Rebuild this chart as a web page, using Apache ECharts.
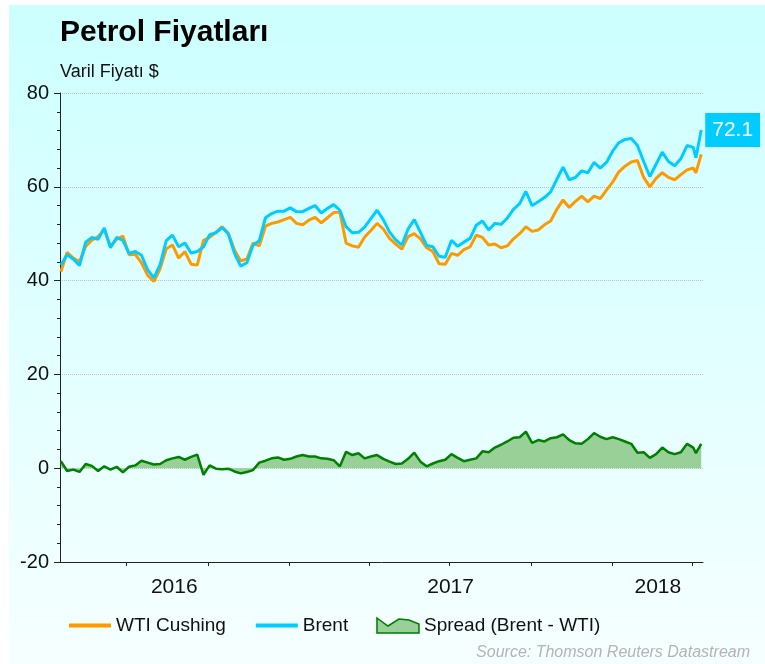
<!DOCTYPE html>
<html>
<head>
<meta charset="utf-8">
<title>Petrol Fiyatları</title>
<script src="https://cdn.jsdelivr.net/npm/echarts@6/dist/echarts.min.js"></script>
<style>
    html, body { margin: 0; padding: 0; background: #fff; }
    #chart { position: absolute; left: 9px; top: 5px; width: 756px; height: 659px; }
</style>
</head>
<body>
<div id="chart"></div>
<script>
// haftalık seri başlangıcı + son iki gün
const weekStart = '2016-04-18';
const weekCount = 103;
const extraDates = ['2018-04-05', '2018-04-11'];

const brent = [
    43.3, 45.5, 44.6, 43.2, 48.2, 49.2, 48.8, 51.2, 47.0, 49.2,
    48.6, 45.8, 46.2, 45.4, 42.3, 40.6, 43.4, 48.5, 49.7, 47.2,
    48.0, 45.9, 46.2, 47.2, 49.8, 50.2, 51.3, 50.0, 45.8, 43.1,
    43.8, 47.6, 48.5, 53.4, 54.3, 54.8, 54.8, 55.5, 54.7, 54.7,
    55.4, 56.0, 54.4, 55.4, 56.2, 55.0, 51.5, 50.2, 50.3, 51.4,
    53.2, 55.0, 53.0, 50.4, 48.7, 47.6, 51.0, 53.0, 50.3, 47.5,
    47.2, 45.2, 45.0, 48.6, 47.3, 48.2, 49.0, 51.8, 52.7, 50.8,
    52.2, 52.0, 53.3, 55.2, 56.4, 59.0, 56.0, 56.8, 57.7, 58.9,
    61.6, 64.2, 61.5, 62.0, 63.4, 63.0, 65.2, 64.0, 65.2, 67.6,
    69.4, 70.1, 70.3, 68.8, 65.4, 62.2, 64.8, 67.4, 65.4, 64.5,
    66.0, 68.8, 68.4, 66.2, 72.1
];

const wti = [
    41.9, 46.0, 44.8, 44.0, 47.3, 48.6, 49.4, 50.8, 47.3, 48.8,
    49.5, 45.5, 45.6, 43.8, 41.1, 39.8, 42.5, 46.8, 47.6, 44.8,
    46.2, 43.5, 43.3, 48.6, 49.2, 50.3, 51.5, 50.1, 46.5, 44.2,
    44.6, 48.0, 47.4, 51.6, 52.2, 52.5, 53.0, 53.5, 52.2, 51.9,
    52.9, 53.5, 52.3, 53.4, 54.5, 54.6, 48.0, 47.4, 47.1, 49.3,
    50.7, 52.2, 51.0, 49.0, 47.8, 46.7, 49.4, 50.0, 48.9, 47.0,
    46.2, 43.6, 43.5, 45.8, 45.4, 46.6, 47.2, 49.7, 49.2, 47.6,
    47.8, 47.0, 47.4, 48.9, 50.0, 51.5, 50.5, 50.8, 51.9, 52.7,
    55.2, 57.2, 55.6, 56.9, 58.0, 56.8, 58.0, 57.5, 59.3, 61.0,
    63.2, 64.4, 65.3, 65.6, 62.0, 60.0, 61.8, 63.0, 62.0, 61.5,
    62.6, 63.6, 64.0, 63.0, 66.9
];

const spread = [
    1.5, -0.6, -0.3, -0.8, 0.9, 0.5, -0.6, 0.4, -0.3, 0.3,
    -0.9, 0.3, 0.6, 1.6, 1.2, 0.8, 0.9, 1.7, 2.1, 2.4,
    1.8, 2.4, 2.9, -1.4, 0.6, -0.1, -0.2, -0.1, -0.7, -1.1,
    -0.8, -0.4, 1.2, 1.6, 2.1, 2.3, 1.8, 2.0, 2.5, 2.8,
    2.5, 2.5, 2.1, 2.0, 1.7, 0.4, 3.5, 2.8, 3.2, 2.1,
    2.5, 2.8, 2.0, 1.4, 0.9, 1.0, 2.0, 3.3, 1.4, 0.4,
    1.0, 1.5, 1.8, 3.0, 2.2, 1.5, 1.8, 2.1, 3.6, 3.4,
    4.4, 5.0, 5.7, 6.5, 6.6, 7.8, 5.4, 6.0, 5.7, 6.4,
    6.6, 7.2, 6.0, 5.3, 5.2, 6.2, 7.5, 6.7, 6.2, 6.6,
    6.2, 5.7, 5.2, 3.3, 3.4, 2.2, 3.0, 4.4, 3.4, 3.0,
    3.4, 5.2, 4.4, 3.2, 5.2
];

// eksen: çeyrek çentikleri, yıl etiketleri görünen yıl diliminin ortasında
const quarterTicks = ['2016-07-01', '2016-10-01', '2017-01-01', '2017-04-01',
    '2017-07-01', '2017-10-01', '2018-01-01', '2018-04-01'];
const yearLabels = ['2016', '2017', '2018'];
const yearLabelDates = ['2016-08-24', '2017-07-02', '2018-02-21'];
const axisStart = '2016-04-17';
const axisEnd = '2018-04-13';

const seriesNames = ['WTI Cushing', 'Brent', 'Spread (Brent - WTI)'];

const ts = s => new Date(s + 'T00:00:00').getTime();

function buildDates() {
    const out = [];
    const d0 = ts(weekStart);
    for (let i = 0; i < weekCount; i++) {
        out.push(d0 + i * 7 * 86400000);
    }
    extraDates.forEach(s => out.push(ts(s)));
    return out;
}

const dates = buildDates();
const pair = arr => arr.map((v, i) => [dates[i], v]);
const labelStamps = yearLabelDates.map(ts);

const FONT = '"Liberation Sans", Arial, sans-serif';
const chart = echarts.init(document.getElementById('chart'));

const option = {
    backgroundColor: new echarts.graphic.LinearGradient(0, 0, 0, 1, [
        { offset: 0, color: '#ccffff' },
        { offset: 1, color: '#f6ffff' }
    ]),
    animation: false,
    textStyle: { fontFamily: FONT },
    title: [
        {
            text: 'Petrol Fiyatları',
            left: 51, top: 13, padding: 0,
            textStyle: { fontSize: 30, fontWeight: 'bold', color: '#000', fontFamily: FONT }
        },
        {
            text: 'Varil Fiyatı $',
            left: 51, top: 58, padding: 0,
            textStyle: { fontSize: 18, fontWeight: 'normal', color: '#111', fontFamily: FONT }
        },
        {
            text: 'Source: Thomson Reuters Datastream',
            right: 15, bottom: 3, padding: 0,
            textStyle: { fontSize: 16, fontWeight: 'normal', fontStyle: 'italic', color: '#b4b4b4', fontFamily: FONT }
        }
    ],
    legend: {
        left: 58, top: 611, padding: 0,
        itemWidth: 42, itemHeight: 16, itemGap: 28,
        textStyle: { fontSize: 19, color: '#111', fontFamily: FONT },
        data: [
            { name: seriesNames[0], itemStyle: { opacity: 0 }, lineStyle: { width: 4 } },
            { name: seriesNames[1], itemStyle: { opacity: 0 }, lineStyle: { width: 4 } },
            {
                name: seriesNames[2],
                icon: 'path://M0,3 L11,11 L22,4 L32,5 L42,9 L42,18 L0,18 Z',
                itemStyle: { color: '#98d098', borderColor: '#007a00', borderWidth: 1.5 }
            }
        ]
    },
    grid: { left: 51, right: 62, top: 88, bottom: 102 },
    xAxis: {
        type: 'value',
        min: ts(axisStart),
        max: ts(axisEnd),
        axisLine: { onZero: false, lineStyle: { color: '#222', width: 1 } },
        axisTick: {
            show: true, length: 4, inside: false,
            customValues: quarterTicks.map(ts),
            lineStyle: { color: '#222' }
        },
        axisLabel: {
            customValues: labelStamps,
            formatter: v => yearLabels[labelStamps.indexOf(v)] || '',
            fontSize: 21, color: '#111', margin: 15, fontFamily: FONT
        },
        splitLine: { show: false }
    },
    yAxis: {
        type: 'value',
        min: -20, max: 80, interval: 20,
        axisLine: { show: true, lineStyle: { color: '#222', width: 1 } },
        axisTick: { show: true, length: 6, lineStyle: { color: '#222' } },
        minorTick: { show: true, splitNumber: 5, length: 3, lineStyle: { color: '#222' } },
        axisLabel: { fontSize: 20, color: '#111', margin: 11, fontFamily: FONT },
        splitLine: { show: true, lineStyle: { color: '#b8c4c4', type: 'dotted', width: 1 } }
    },
    series: [
        {
            name: seriesNames[0],
            type: 'line',
            data: pair(wti),
            symbol: 'none',
            lineStyle: { color: '#ff9900', width: 3 },
            itemStyle: { color: '#ff9900' }
        },
        {
            name: seriesNames[1],
            type: 'line',
            data: pair(brent),
            symbol: 'none',
            lineStyle: { color: '#00ccff', width: 3 },
            itemStyle: { color: '#00ccff' },
            endLabel: {
                show: true,
                formatter: p => p.value[1].toFixed(1),
                backgroundColor: '#00ccff',
                color: '#fff',
                fontSize: 21,
                fontFamily: FONT,
                padding: [7, 7, 6, 7],
                distance: 4
            }
        },
        {
            name: seriesNames[2],
            type: 'line',
            data: pair(spread),
            symbol: 'none',
            lineStyle: { color: '#008000', width: 2.5 },
            itemStyle: { color: '#008000' },
            areaStyle: { color: '#98d098', opacity: 1 }
        }
    ]
};

chart.setOption(option);
</script>
</body>
</html>
